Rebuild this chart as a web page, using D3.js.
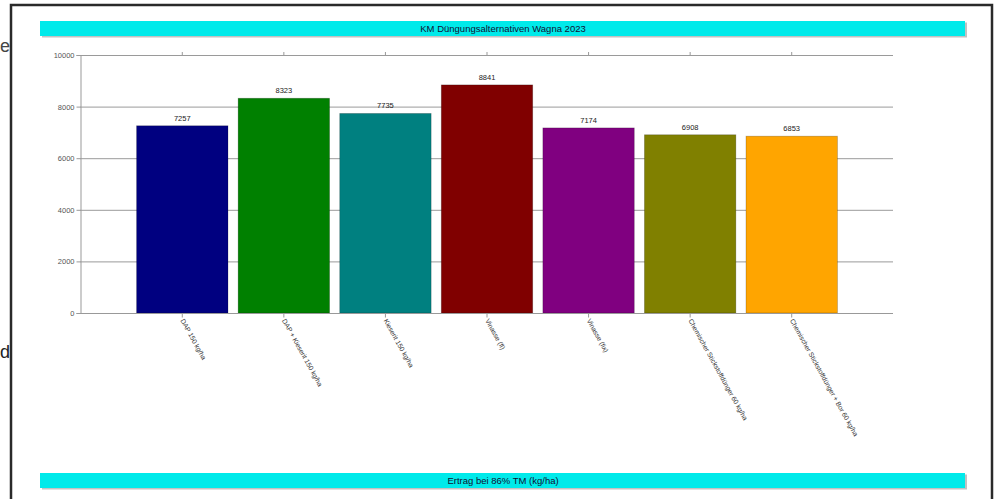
<!DOCTYPE html>
<html>
<head>
<meta charset="utf-8">
<script src="https://cdn.jsdelivr.net/npm/d3@7"></script>
<style>
  html, body { margin: 0; padding: 0; background: #fff; overflow: hidden; }
  svg { display: block; font-family: "Liberation Sans", Arial, sans-serif; }
</style>
</head>
<body>
<svg id="chart" width="998" height="499"></svg>
<script>
// Treatments, yields and colours
const categories = [
  "DAP 150 kg/ha",
  "DAP + Kieserit 150 kg/ha",
  "Kieserit 150 kg/ha",
  "Vinasse (fl)",
  "Vinasse (fix)",
  "Chemischer Stickstoffdünger 60 kg/ha",
  "Chemischer Stickstoffdünger + Bor 60 kg/ha"
];
const yields = [7257, 8323, 7735, 8841, 7174, 6908, 6853];
const barColors = ["#000080", "#008000", "#008080", "#800000", "#800080", "#808000", "#ffa500"];
const yTicks = [0, 2000, 4000, 6000, 8000, 10000];
const titleText = "KM Düngungsalternativen Wagna 2023";
const footerText = "Ertrag bei 86% TM (kg/ha)";

const svg = d3.select("#chart");

// stray glyphs of the surrounding page, left of the frame
svg.append("text").attr("x", 0).attr("y", 52).attr("font-size", 18)
  .attr("fill", "#444").text("e");
svg.append("text").attr("x", 0).attr("y", 358).attr("font-size", 18)
  .attr("fill", "#222").text("d");

// outer frame
svg.append("rect").attr("x", 11).attr("y", 5).attr("width", 981).attr("height", 510)
  .attr("fill", "#fff").attr("stroke", "#2a2a2a").attr("stroke-width", 2.5);

// title and footer bars
function banner(y, label) {
  const g = svg.append("g");
  g.append("rect").attr("x", 42).attr("y", y + 1.5).attr("width", 925).attr("height", 15)
    .attr("fill", "#9a9a9a").attr("opacity", 0.6);
  g.append("rect").attr("x", 40).attr("y", y).attr("width", 925).attr("height", 15)
    .attr("fill", "#00eaea");
  g.append("text").attr("x", 503).attr("y", y + 11).attr("text-anchor", "middle")
    .attr("font-size", 9.5).attr("fill", "#113").text(label);
}
banner(21, titleText);
banner(473, footerText);

// scales
const x = d3.scaleBand().domain(categories).range([131.5, 842.5])
  .paddingInner(0.1).paddingOuter(0.05);
const y = d3.scaleLinear().domain([0, 10000]).range([313, 55]);
const plotLeft = 80, plotRight = 893;

// grid lines
svg.append("g").selectAll("line").data(yTicks).join("line")
  .attr("x1", plotLeft).attr("x2", plotRight)
  .attr("y1", d => y(d) + 0.5).attr("y2", d => y(d) + 0.5)
  .attr("stroke", "#9a9a9a").attr("stroke-width", 1);

// left axis
const yAxis = svg.append("g").attr("transform", `translate(${plotLeft + 0.5},0)`)
  .call(d3.axisLeft(y).tickValues(yTicks).tickFormat(d3.format("d")).tickSize(4).tickPadding(2));
yAxis.select(".domain").attr("stroke", "#999");
yAxis.selectAll(".tick line").attr("stroke", "#999");
yAxis.selectAll(".tick text").attr("font-size", 7.5).attr("fill", "#555")
  .attr("font-family", "Liberation Sans, Arial, sans-serif");

// top axis ticks
const topAxis = svg.append("g").attr("transform", `translate(0,${y(10000)})`)
  .call(d3.axisTop(x).tickSize(3).tickFormat(""));
topAxis.select(".domain").remove();
topAxis.selectAll(".tick line").attr("stroke", "#999");

// bars
svg.append("g").selectAll("rect").data(yields).join("rect")
  .attr("x", (d, i) => x(categories[i]))
  .attr("y", d => y(d))
  .attr("width", x.bandwidth())
  .attr("height", d => y(0) - y(d))
  .attr("fill", (d, i) => barColors[i])
  .attr("stroke", "rgba(0,0,0,0.25)").attr("stroke-width", 0.8);

// value labels
svg.append("g").selectAll("text").data(yields).join("text")
  .attr("x", (d, i) => x(categories[i]) + x.bandwidth() / 2)
  .attr("y", d => y(d) - 5)
  .attr("text-anchor", "middle").attr("font-size", 7.5).attr("fill", "#222")
  .text(d => d);

// bottom axis with rotated category labels
const xAxis = svg.append("g").attr("transform", `translate(0,${y(0) + 0.5})`)
  .call(d3.axisBottom(x).tickSize(4).tickSizeOuter(0));
xAxis.select(".domain").attr("d", `M${plotLeft},0H${plotRight}`).attr("stroke", "#999");
xAxis.selectAll(".tick line").attr("stroke", "#999");
xAxis.selectAll(".tick text")
  .attr("font-size", 6.8).attr("fill", "#333")
  .attr("font-family", "Liberation Sans, Arial, sans-serif")
  .attr("text-anchor", "start")
  .attr("dy", 0).attr("y", 0)
  .attr("transform", "translate(-2,7) rotate(61)");
</script>
</body>
</html>
